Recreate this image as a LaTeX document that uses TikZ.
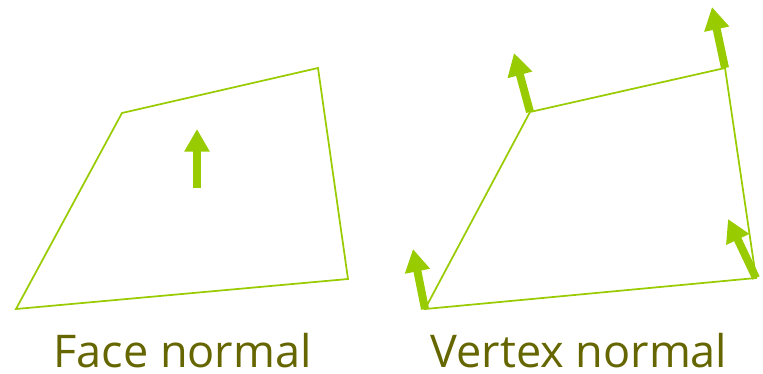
\documentclass[tikz,border=0pt]{standalone}
\usepackage{fontspec}
\setmainfont{Open Sans}
\usepackage{tikz}
\usetikzlibrary{arrows.meta,positioning,calc}
\definecolor{normalgreen}{RGB}{153,204,0}
\definecolor{labelolive}{RGB}{102,102,0}

\begin{document}
\begin{tikzpicture}[x=0.75pt, y=-0.75pt,
    edge/.style={draw=normalgreen, line width=1.3pt, line join=miter},
    nrm/.style={-{Triangle[width=18pt, length=17pt]}, line width=6pt, normalgreen},
    lbl/.style={anchor=base, inner sep=0pt, text=labelolive, font=\fontsize{33.8}{38}\selectfont}
]
\useasboundingbox (0,0) rectangle (763,374);
% face normal
\coordinate (fa) at (16,309);
\coordinate (fb) at (122,113);
\coordinate (fc) at (318,68);
\coordinate (fd) at (348,279);
\draw[edge] (fa) -- (fb) -- (fc) -- (fd) -- cycle;
\coordinate (fn0) at (197,188);
\coordinate (fn1) at (197,129);
\draw[nrm] (fn0) -- (fn1);
\node[lbl] (facelbl) at (182.5,367) {Face normal};
% vertex normal
\coordinate (va) at (425,309);
\coordinate (vb) at (530,112);
\coordinate (vc) at (725,68);
\coordinate (vd) at (756,278);
\draw[edge] (va) -- (vb) -- (vc) -- (vd) -- cycle;
\coordinate (na) at (413,249);
\coordinate (nb) at (514,53);
\coordinate (nc) at (712,7);
\coordinate (nd) at (728,219);
\draw[nrm] (va) -- (na);
\draw[nrm] (vb) -- (nb);
\draw[nrm] (vc) -- (nc);
\draw[nrm] (vd) -- (nd);
\node[lbl] (vertexlbl) at (579,367) {Vertex normal};
\end{tikzpicture}
\end{document}
